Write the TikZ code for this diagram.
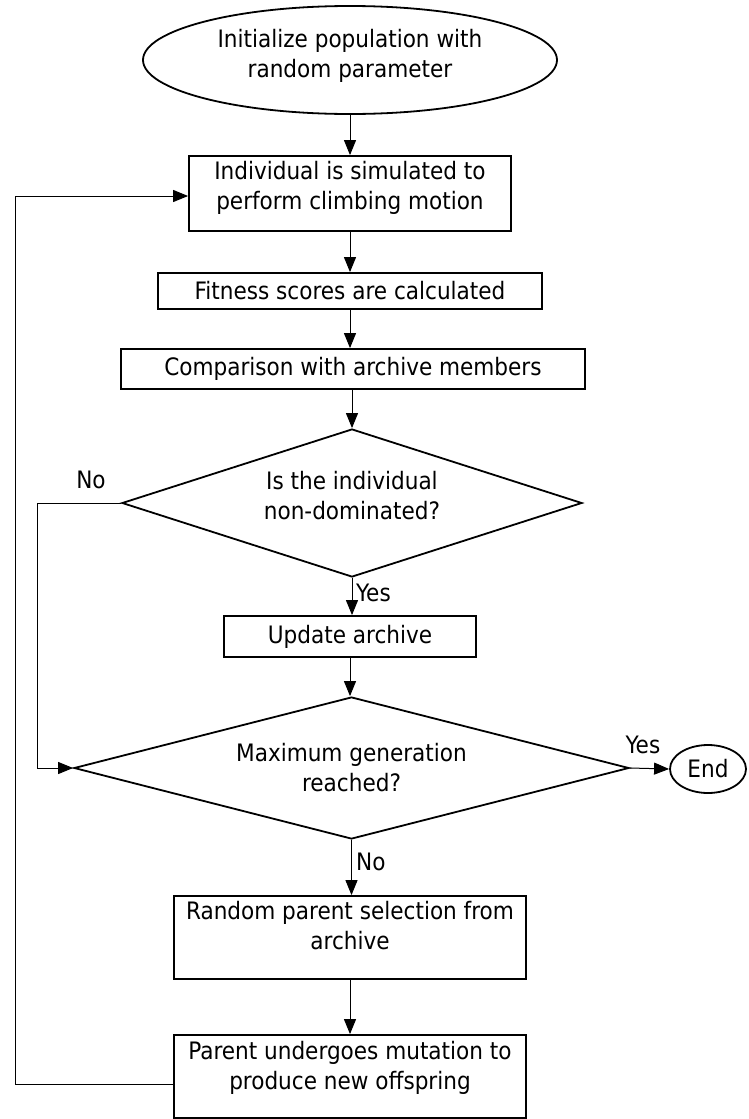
\documentclass[tikz,border=0pt]{standalone}
\usepackage{fontspec}
\setmainfont{DejaVu Sans Condensed}
\usetikzlibrary{shapes.geometric,arrows.meta}
\begin{document}
\begin{tikzpicture}[x=1pt,y=-1pt,
  every node/.style={font=\fontsize{24}{30}\selectfont, inner sep=0pt},
  box/.style={draw, line width=1.8pt, rectangle, align=center},
  term/.style={draw, line width=1.8pt, ellipse, align=center},
  dec/.style={draw, line width=1.8pt, diamond, aspect=3.1, align=center},
  flow/.style={line width=1pt, -{Triangle[length=15pt,width=12pt]}},
  link/.style={line width=1pt}]
\useasboundingbox (0,0) rectangle (748,1119);
\node[term, minimum width=414pt, minimum height=108pt, text height=50pt, text depth=16pt] (init) at (350,60) {Initialize population with\\random parameter};
\node[box, minimum width=322pt, minimum height=75pt, text height=53pt, text depth=22pt] (b1) at (350,193.5) {Individual is simulated to\\perform climbing motion};
\node[box, minimum width=384pt, minimum height=36pt] (b2) at (350,291) {Fitness scores are calculated};
\node[box, minimum width=464pt, minimum height=40pt] (b3) at (353,369) {Comparison with archive members};
\node[dec, minimum width=460pt, minimum height=148pt, text height=48pt, text depth=16pt] (d1) at (352,503) {Is the individual\\non-dominated?};
\node[box, minimum width=252pt, minimum height=41pt] (upd) at (350,636.5) {Update archive};
\node[dec, minimum width=555pt, minimum height=142pt] (d2) at (351.5,768) {Maximum generation\\reached?};
\node[term, minimum width=76pt, minimum height=48pt] (end) at (708,769) {End};
\node[box, minimum width=352pt, minimum height=83pt, text height=53pt, text depth=30pt] (rnd) at (350,937.5) {Random parent selection from\\archive};
\node[box, minimum width=352pt, minimum height=83pt, text height=54pt, text depth=29pt] (par) at (350,1076.5) {Parent undergoes mutation to\\produce new offspring};
\node[anchor=west] (yes1) at (356,593) {Yes};
\node (no1) at (91,480) {No};
\node (yes2) at (643,745) {Yes};
\node[anchor=west] (no2) at (356,862) {No};
\coordinate (c1) at (37,503);
\coordinate (c2) at (37,768);
\coordinate (l1) at (15,1084);
\coordinate (l2) at (15,196);
\draw[flow] (init.south) -- (init.south |- b1.north);
\draw[flow] (b1.south) -- (b1.south |- b2.north);
\draw[flow] (b2.south) -- (b2.south |- b3.north);
\draw[flow] (d1.north |- b3.south) -- (d1.north);
\draw[flow] (d1.south) -- (d1.south |- upd.north);
\draw[flow] (upd.south) -- (upd.south |- d2.north);
\draw[flow] (d2.south) -- (d2.south |- rnd.north);
\draw[flow] (rnd.south) -- (rnd.south |- par.north);
\draw[flow] (d2.east) -- (end.west);
\draw[flow] (d1.west) -- (c1) -- (c2) -- (d2.west);
\draw[flow] (par.west |- l1) -- (l1) -- (l2) -- (b1.west |- l2);
\end{tikzpicture}
\end{document}
